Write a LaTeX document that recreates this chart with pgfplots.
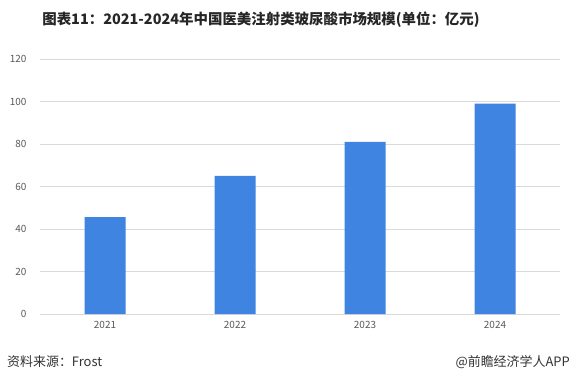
\documentclass[border=0pt]{standalone}
\usepackage{pgfplots}
\pgfplotsset{compat=1.18}
\usepackage{fontspec}
\setmainfont{Noto Sans CJK SC}
\setsansfont{Noto Sans CJK SC}
\definecolor{barblue}{RGB}{62,132,224}
\definecolor{gridgray}{RGB}{217,217,217}
\definecolor{ticktext}{RGB}{89,89,89}
\begin{document}
\begin{tikzpicture}[x=1bp,y=1bp]
\path[use as bounding box, fill=white] (0,0) rectangle (570,383);
\begin{axis}[
  at={(40bp,69bp)}, anchor=south west,
  scale only axis, width=520bp, height=255bp,
  xmin=-0.5, xmax=3.5, ymin=0, ymax=120,
  ytick={0,20,...,120},
  xtick={0,1,2,3}, xticklabels={2021,2022,2023,2024},
  axis line style={draw=none},
  major tick length=0pt,
  ymajorgrids, grid style={gridgray, line width=0.8bp},
  tick label style={font=\fontsize{10}{12}\selectfont, text=ticktext},
  yticklabel style={xshift=-10bp},
  xticklabel style={yshift=-4bp},
  /pgf/number format/assume math mode=true,
  clip=false,
]
\addplot[ybar, bar width=41bp, fill=barblue, draw=none] coordinates {(0,45.6) (1,65) (2,81) (3,99)};
\end{axis}
\node[font=\fontsize{14.5}{16}\selectfont\bfseries, text=black!85, anchor=center] at (261,363) {图表11：2021-2024年中国医美注射类玻尿酸市场规模(单位：亿元)};
\node[font=\fontsize{13}{15}\selectfont, text=black!80, anchor=west, inner sep=0] at (7,21) {资料来源：Frost};
\node[font=\fontsize{13}{15}\selectfont, text=black!80, anchor=east, inner sep=0] at (570,21) {@前瞻经济学人APP};
\end{tikzpicture}
\end{document}
